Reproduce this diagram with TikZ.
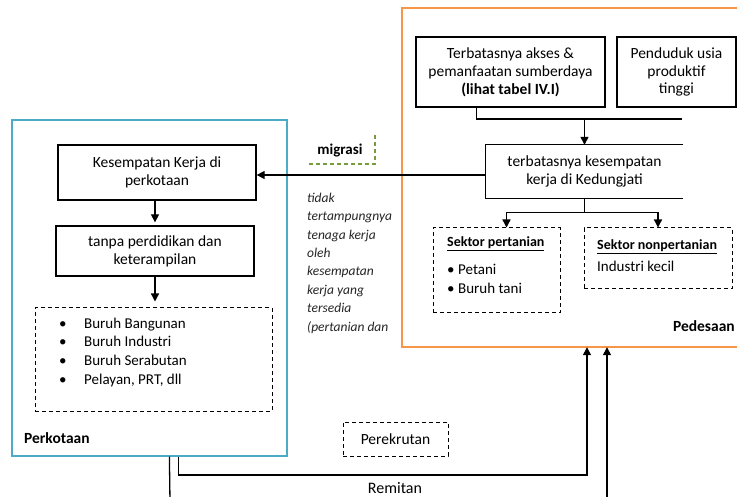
\documentclass[tikz,border=0pt]{standalone}
\usepackage{fontspec}
\setmainfont{Carlito}
\usetikzlibrary{arrows.meta}
\definecolor{kotablue}{RGB}{75,172,198}
\definecolor{desaorange}{RGB}{247,150,70}
\definecolor{migreen}{RGB}{120,155,60}
\begin{document}
\begin{tikzpicture}[x=1pt,y=-1pt,
  txt/.style={font=\fontsize{15.5}{17.8}\selectfont, text=black},
  solidbox/.style={draw, line width=1.3pt, align=center, inner sep=0pt, txt},
  dbox/.style={draw, line width=1pt, dash pattern=on 4pt off 3pt, inner sep=0pt},
  arr/.style={-{Triangle[length=8pt,width=8pt]}, line width=1.3pt},
  ln/.style={line width=1.3pt},
  itx/.style={font=\fontsize{13.5}{18.4}\selectfont\itshape, text=black!85, align=left, inner sep=0pt},
  lbl/.style={txt, inner sep=0pt}]
\clip (0,0) rectangle (737,497);
\fill[white] (0,0) rectangle (737,497);

% regions
\node[draw=kotablue, line width=1.2pt, minimum width=275pt, minimum height=336pt, inner sep=0pt] (kota) at (149.5,288) {};
\node[minimum width=345pt, minimum height=339pt, inner sep=0pt] (desa) at (574.5,177.5) {};
\draw[desaorange, line width=1.5pt] (desa.north east) -- (desa.north west) -- (desa.south west) -- (desa.south east);

% city side
\node[solidbox, minimum width=198pt, minimum height=55pt] (kk) at (157,172.5) {Kesempatan Kerja di\\perkotaan};
\node[solidbox, minimum width=198pt, minimum height=50pt] (tp) at (155,251) {tanpa perdidikan dan\\keterampilan};
\node[dbox, minimum width=237pt, minimum height=103pt] (bur) at (153.5,359.5) {};
\node[lbl, anchor=base west, align=left, font=\fontsize{15}{18.8}\selectfont] (burl) at (59,384.5)
  {\makebox[25pt][l]{\textbullet}Buruh Bangunan\\
   \makebox[25pt][l]{\textbullet}Buruh Industri\\
   \makebox[25pt][l]{\textbullet}Buruh Serabutan\\
   \makebox[25pt][l]{\textbullet}Pelayan, PRT, dll};
\node[lbl, anchor=base west, font=\fontsize{15.5}{17}\selectfont\bfseries] (kotalbl) at (24,443) {Perkotaan};

% migration
\node[lbl, font=\fontsize{15}{17}\selectfont\bfseries] (mig) at (340,151) {migrasi};
\coordinate (mg1) at (375,135);
\coordinate (mg2) at (307,164);
\draw[migreen, line width=1.2pt, dash pattern=on 4pt off 3pt] (mg1) |- (mg2);
\node[itx, anchor=base west] (tdk) at (307,331)
  {tidak\\tertampungnya\\tenaga kerja\\oleh\\kesempatan\\kerja yang\\tersedia\\(pertanian dan};

% village side
\node[solidbox, minimum width=189pt, minimum height=70pt] (ta) at (510.5,72)
  {Terbatasnya akses \&\\pemanfaatan sumberdaya\\\textbf{(lihat tabel IV.I)}};
\node[solidbox, minimum width=119pt, minimum height=70pt] (pu) at (676.5,72)
  {Penduduk usia\\produktif\\tinggi};
\node[txt, align=center, minimum width=197pt, minimum height=53pt, inner sep=0pt] (tk) at (584.5,171.5)
  {terbatasnya kesempatan\\kerja di Kedungjati};
\draw[ln] (tk.north east) -- (tk.north west) -- (tk.south west) -- (tk.south east);
\coordinate (jn) at (682,119);
\coordinate (tas) at ([xshift=61pt]ta.south west);
\draw[ln] (tas) |- (jn);
\draw[arr] (tk.north |- jn) -- (tk.north);

\node[dbox, minimum width=127pt, minimum height=85pt] (sp) at (496.5,270.5) {};
\node[dbox, minimum width=148pt, minimum height=61pt] (snp) at (658,258.5) {};
\coordinate (spt) at ([xshift=74pt]sp.north west);
\draw[ln] (tk.south) -- ++(0,14) coordinate (split);
\draw[arr] (split) -| (spt);
\draw[arr] (split) -| (snp.north);

\node[lbl, anchor=base west, font=\fontsize{14}{17}\selectfont\bfseries] (spl) at (447,247) {\underline{Sektor pertanian}};
\node[lbl, anchor=base west, align=left, font=\fontsize{15}{19}\selectfont] (spi) at (447,294)
  {\makebox[11pt][l]{\textbullet}Petani\\\makebox[11pt][l]{\textbullet}Buruh tani};
\node[lbl, anchor=base west, font=\fontsize{14}{17}\selectfont\bfseries] (snpl) at (597,250) {\underline{Sektor nonpertanian}};
\node[lbl, anchor=base west, font=\fontsize{15}{17}\selectfont] (snpi) at (597,272) {Industri kecil};
\node[lbl, anchor=base east, font=\fontsize{15.5}{17}\selectfont\bfseries] (desalbl) at (735,331) {Pedesaan};

% flows back
\draw[arr] (tk.west |- 0,175) -- (kk.east |- 0,175);
\draw[arr, shorten >=3pt] (kk.south -| tp.north) -- (tp.north);
\draw[arr, shorten >=6pt] (tp.south) -- (tp.south |- bur.north);

\node[dbox, minimum width=105pt, minimum height=34pt] (rek) at (395.5,439) {};
\node[lbl] (rekl) at (395.5,439) {Perekrutan};

\coordinate (rmA) at ([xshift=167pt]kota.south west);
\coordinate (rmB) at (587,475);
\draw[arr] (rmA) |- (rmB) -- (desa.south west -| rmB);
\node[lbl, font=\fontsize{16}{17}\selectfont] (rml) at (395,488) {Remitan};

\coordinate (bl) at (170,502);
\draw[ln] ([xshift=158pt]kota.south west) -- (bl);
\coordinate (br) at (607,502);
\draw[arr] (br) -- (desa.south west -| br);
\end{tikzpicture}
\end{document}
